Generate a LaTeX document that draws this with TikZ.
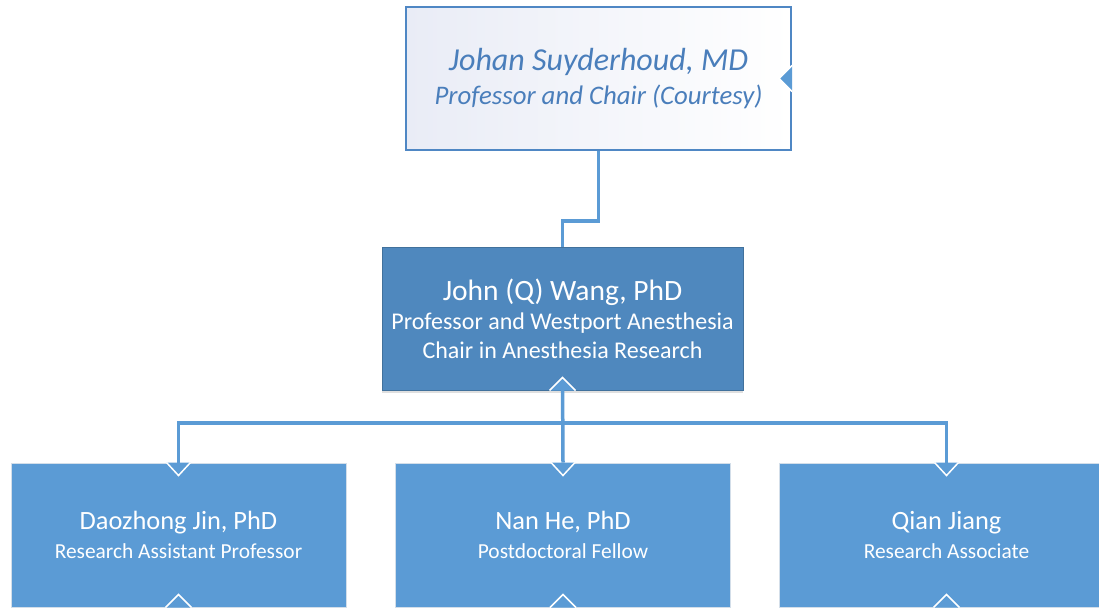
\documentclass[tikz,border=0pt]{standalone}
\usepackage{fontspec}
\setmainfont{Carlito}
\usepackage{tikz}
\usetikzlibrary{shadows}

\definecolor{linkblue}{HTML}{5B9BD5}
\definecolor{chairline}{HTML}{4F87C4}
\definecolor{chairtext}{HTML}{4A7EBB}
\definecolor{chairtint}{HTML}{E9ECF6}
\definecolor{wangfill}{HTML}{4F88BE}
\definecolor{wangline}{HTML}{41719C}
\definecolor{staffline}{HTML}{D3DEE9}

\tikzset{
  chairbox/.style={draw=chairline, line width=2pt, left color=chairtint, right color=white,
    minimum width=385pt, minimum height=143pt, inner sep=0pt, align=center,
    text=chairtext, font=\itshape\fontsize{26.8}{34}\selectfont},
  wangbox/.style={draw=wangline, line width=1pt, fill=wangfill,
    drop shadow={shadow xshift=0pt, shadow yshift=-3pt, opacity=.25, fill=black!50},
    minimum width=361pt, minimum height=143pt, inner sep=0pt, align=center,
    text=white, font=\fontsize{24}{29}\selectfont},
  staffbox/.style={draw=staffline, line width=1pt, fill=linkblue,
    minimum width=335pt, minimum height=144pt, inner sep=0pt, align=center,
    text=white, font=\fontsize{21.4}{29}\selectfont},
  link/.style={draw=linkblue, line width=3.5pt},
  notch/.style={draw=white, line width=1.5pt, fill=linkblue}
}

\begin{document}
\begin{tikzpicture}[x=1pt,y=-1pt]
  \clip (0,0) rectangle (1099,608);
  \fill[white] (0,0) rectangle (1099,608);

  % boxes
  \node[chairbox] (chair) at (598.5,78.5)
    {{\fontsize{32}{36}\selectfont Johan Suyderhoud, MD}\\Professor and Chair (Courtesy)};
  \node[wangbox] (wang) at (562.5,318.5)
    {{\fontsize{29.5}{33}\selectfont John (Q) Wang, PhD}\\Professor and Westport Anesthesia\\Chair in Anesthesia Research};
  \node[staffbox] (jin) at (178.5,535)
    {{\fontsize{26.4}{30}\selectfont Daozhong Jin, PhD}\\Research Assistant Professor};
  \node[staffbox] (he) at (563,535)
    {{\fontsize{26.4}{30}\selectfont Nan He, PhD}\\Postdoctoral Fellow};
  \node[staffbox] (jiang) at (946.5,535)
    {{\fontsize{26.4}{30}\selectfont Qian Jiang}\\Research Associate};

  % links
  \draw[link] (chair.south) -- ++(0,70) -| (wang.north);
  \coordinate (bus) at (563,423);
  \draw[link] ([yshift=12pt]wang.south) -- (he.north);
  \draw[link] (jin.north) |- (bus) -| (jiang.north);

  % notches
  \filldraw[notch] ([yshift=13pt]chair.east) -- ([xshift=-13pt]chair.east) -- ([yshift=-13pt]chair.east);
  \filldraw[notch] ([xshift=-13pt]wang.south) -- ([yshift=13pt]wang.south) -- ([xshift=13pt]wang.south);
  \filldraw[notch] ([xshift=-12pt]jin.north) -- ([yshift=-13pt]jin.north) -- ([xshift=12pt]jin.north);
  \filldraw[notch] ([xshift=-12pt]he.north) -- ([yshift=-13pt]he.north) -- ([xshift=12pt]he.north);
  \filldraw[notch] ([xshift=-12pt]jiang.north) -- ([yshift=-13pt]jiang.north) -- ([xshift=12pt]jiang.north);
  \filldraw[notch] ([xshift=-13pt]jin.south) -- ([yshift=13pt]jin.south) -- ([xshift=13pt]jin.south);
  \filldraw[notch] ([xshift=-13pt]he.south) -- ([yshift=13pt]he.south) -- ([xshift=13pt]he.south);
  \filldraw[notch] ([xshift=-13pt]jiang.south) -- ([yshift=13pt]jiang.south) -- ([xshift=13pt]jiang.south);
\end{tikzpicture}
\end{document}
